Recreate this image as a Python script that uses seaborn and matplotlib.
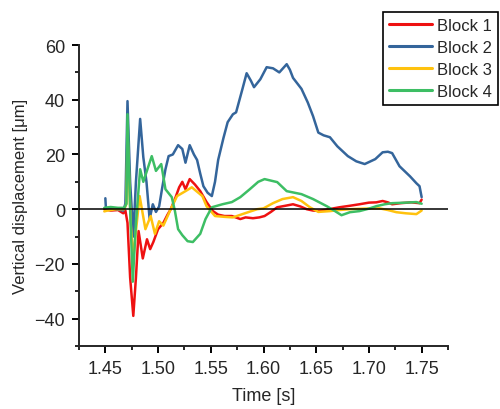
import numpy as np
import pandas as pd
import seaborn as sns
import matplotlib.pyplot as plt
from matplotlib.ticker import MultipleLocator

blocks = ['Block 1', 'Block 2', 'Block 3', 'Block 4']
colors = ['#EE1111', '#34659B', '#FFC20E', '#3DBE64']

t_block1 = [1.449, 1.455, 1.462, 1.467, 1.469, 1.471, 1.4735, 1.4765, 1.479, 1.4815,
            1.4855, 1.4895, 1.4925, 1.4955, 1.500, 1.505, 1.509, 1.512, 1.516, 1.520,
            1.523, 1.526, 1.530, 1.535, 1.540, 1.546, 1.552, 1.557, 1.563, 1.570,
            1.578, 1.583, 1.590, 1.596, 1.601, 1.607, 1.613, 1.620, 1.628, 1.635,
            1.641, 1.647, 1.653, 1.662, 1.672, 1.681, 1.691, 1.700, 1.707, 1.713,
            1.718, 1.722, 1.730, 1.740, 1.748, 1.750]
d_block1 = [0.0, -0.5, -0.3, -1.5, -0.5, -5.0, -25.0, -39.0, -25.0, -8.0,
            -18.0, -11.0, -14.6, -12.0, -7.3, -5.0, -2.0, 0.0, 3.7, 8.0,
            10.0, 7.3, 11.0, 9.0, 6.6, 2.6, -0.7, -2.0, -2.5, -2.5,
            -3.6, -3.0, -3.3, -3.0, -2.5, -1.0, 0.7, 1.2, 1.8, 1.0,
            0.0, -0.5, -0.6, 0.0, 0.7, 1.2, 1.8, 2.4, 2.5, 3.0,
            2.5, 1.8, 2.2, 2.5, 2.2, 3.5]

t_block2 = [1.450, 1.4505, 1.460, 1.467, 1.469, 1.471, 1.4735, 1.4765, 1.479, 1.483,
            1.486, 1.489, 1.492, 1.495, 1.498, 1.501, 1.504, 1.507, 1.510, 1.514,
            1.519, 1.523, 1.526, 1.530, 1.534, 1.537, 1.540, 1.543, 1.547, 1.551,
            1.554, 1.557, 1.562, 1.566, 1.571, 1.574, 1.580, 1.584, 1.588, 1.591,
            1.597, 1.603, 1.609, 1.615, 1.622, 1.625, 1.628, 1.636, 1.642, 1.647,
            1.652, 1.657, 1.663, 1.670, 1.680, 1.688, 1.696, 1.706, 1.713, 1.718,
            1.722, 1.729, 1.739, 1.745, 1.748, 1.750]
d_block2 = [4.0, 0.5, 0.0, -0.5, 2.0, 39.5, 10.0, -10.0, 10.0, 33.0,
            19.0, 10.0, -3.6, 1.8, -1.0, 1.0, 8.0, 14.6, 19.4, 20.0,
            23.4, 22.0, 17.0, 23.4, 20.0, 18.0, 13.0, 8.4, 6.0, 4.8,
            10.0, 18.0, 26.0, 31.8, 34.7, 35.4, 43.9, 49.7, 47.0, 44.6,
            47.5, 51.9, 51.5, 50.0, 53.0, 51.0, 48.0, 44.0, 39.0, 34.0,
            28.0, 27.0, 26.3, 23.0, 19.4, 17.5, 16.5, 18.3, 20.8, 21.0,
            20.5, 15.7, 12.0, 9.5, 8.4, 4.4]

t_block3 = [1.449, 1.452, 1.460, 1.468, 1.470, 1.471, 1.474, 1.4765, 1.479, 1.4825,
            1.488, 1.493, 1.497, 1.501, 1.505, 1.512, 1.518, 1.526, 1.532, 1.542,
            1.546, 1.554, 1.563, 1.571, 1.580, 1.594, 1.600, 1.609, 1.618, 1.628,
            1.636, 1.644, 1.652, 1.663, 1.672, 1.682, 1.695, 1.710, 1.718, 1.726,
            1.735, 1.745, 1.750]
d_block3 = [-0.8, -0.5, 0.0, 0.0, 2.0, 28.0, -5.0, -18.0, -8.0, 4.8,
            -7.3, -2.5, -9.0, -4.4, -6.0, 0.0, 4.8, 6.6, 8.0, 4.8,
            1.1, -2.5, -2.8, -3.0, -1.8, 0.0, 0.3, 2.2, 3.7, 4.4,
            3.0, 0.7, -1.0, -0.7, -0.3, 0.0, 0.2, 0.3, -0.3, -1.1,
            -1.5, -1.8, -0.5]

t_block4 = [1.449, 1.455, 1.462, 1.468, 1.470, 1.471, 1.4735, 1.476, 1.479, 1.483,
            1.486, 1.494, 1.498, 1.503, 1.507, 1.513, 1.516, 1.519, 1.523, 1.528,
            1.533, 1.540, 1.545, 1.551, 1.561, 1.570, 1.578, 1.587, 1.595, 1.601,
            1.613, 1.622, 1.636, 1.647, 1.660, 1.667, 1.674, 1.682, 1.691, 1.700,
            1.707, 1.715, 1.722, 1.735, 1.745, 1.750]
d_block4 = [0.5, 0.8, 0.5, 0.5, 2.0, 34.7, 0.0, -26.5, -5.0, 14.6,
            10.0, 19.4, 14.0, 16.5, 7.3, 4.4, -0.7, -7.3, -9.5, -11.7,
            -12.0, -9.0, -3.6, 0.7, 1.8, 2.6, 4.4, 7.3, 10.0, 11.0,
            9.9, 6.6, 5.5, 3.7, 1.1, -0.5, -2.2, -1.1, -0.7, 0.2,
            1.1, 1.8, 2.2, 2.4, 2.6, 2.0]

x_ticks = [1.45, 1.50, 1.55, 1.60, 1.65, 1.70, 1.75]
y_ticks = [-40, -20, 0, 20, 40, 60]

frames = []
for name, t, d in zip(blocks, [t_block1, t_block2, t_block3, t_block4],
                      [d_block1, d_block2, d_block3, d_block4]):
    frames.append(pd.DataFrame({'Time': t, 'Disp': d, 'Block': name}))
df = pd.concat(frames, ignore_index=True)

sns.set_style('ticks')
plt.rcParams['font.family'] = ['Liberation Sans', 'DejaVu Sans']
plt.rcParams['axes.linewidth'] = 1.4

fig = plt.figure(figsize=(5, 4.1), dpi=100)
ax = fig.add_axes([0.158, 0.1537, 0.738, 0.734])

sns.lineplot(data=df, x='Time', y='Disp', hue='Block', hue_order=blocks,
             palette=colors, estimator=None, sort=False, linewidth=1.8, ax=ax)
ax.axhline(0, color='black', linewidth=1.1, zorder=5)

ax.set_xlim(1.425, 1.775)
ax.set_ylim(-50, 60)
ax.set_xticks(x_ticks)
ax.set_xticklabels(['%.2f' % v for v in x_ticks])
ax.xaxis.set_minor_locator(MultipleLocator(0.025))
ax.set_yticks(y_ticks)
ax.yaxis.set_minor_locator(MultipleLocator(10))
ax.tick_params(which='major', length=5, width=1.4, pad=5, labelsize=13,
               direction='out', color='black')
ax.tick_params(which='minor', length=3, width=1.2, direction='out', color='black')
sns.despine(ax=ax)

ax.set_xlabel('Time [s]', fontsize=13, labelpad=7)
ax.set_ylabel('Vertical displacement [\u03bcm]', fontsize=12, labelpad=5)

handles, labels = ax.get_legend_handles_labels()
leg = ax.legend(handles, labels, loc='upper left', bbox_to_anchor=(383 / 500, 1 - 13 / 410),
                bbox_transform=fig.transFigure, borderaxespad=0, fontsize=12,
                frameon=True, fancybox=False, framealpha=1, edgecolor='black',
                handlelength=2.6, handletextpad=0.3, labelspacing=0.42,
                borderpad=0.35)
leg.get_frame().set_linewidth(1.2)
for line in leg.get_lines():
    line.set_linewidth(2.2)

fig.savefig('out.png', dpi=100)
